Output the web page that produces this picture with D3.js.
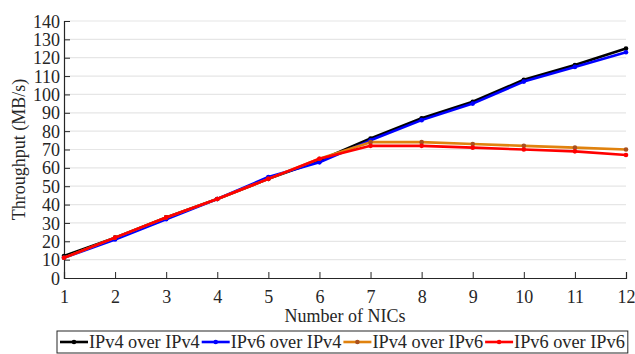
<!DOCTYPE html>
<html><head><meta charset="utf-8">
<script src="https://cdn.jsdelivr.net/npm/d3@7"></script>
<style>body{margin:0;background:#fff}svg{display:block}text{font-family:"Liberation Serif","Times New Roman",serif;fill:#262626}</style>
</head><body><svg id="c" width="635" height="354"></svg>
<script>
const nics = [1,2,3,4,5,6,7,8,9,10,11,12];
const ipv4OverIpv4 = [12,22,33,43,54,64,76,87,96,108,116,125];
const ipv6OverIpv4 = [11,21,32,43,55,63,75,86,95,107,115,123];
const ipv4OverIpv6 = [11,22,33,43,54,65,74,74,73,72,71,70];
const ipv6OverIpv6 = [11,22,33,43,54,65,72,72,71,70,69,67];
const yTicks = [0,10,20,30,40,50,60,70,80,90,100,110,120,130,140];
const seriesNames = ["IPv4 over IPv4","IPv6 over IPv4","IPv4 over IPv6","IPv6 over IPv6"];

const series = [
  {name:seriesNames[0], values:ipv4OverIpv4, color:"#000000", marker:"#000000"},
  {name:seriesNames[1], values:ipv6OverIpv4, color:"#0000ff", marker:"#0000ff"},
  {name:seriesNames[2], values:ipv4OverIpv6, color:"#e0820e", marker:"#a8501e"},
  {name:seriesNames[3], values:ipv6OverIpv6, color:"#ff0000", marker:"#ff0000"}
];

const svg = d3.select("#c");
const L=64, R=626, T=21, B=278;
const x = d3.scaleLinear().domain([1,12]).range([L,R]);
const y = d3.scaleLinear().domain([0,140]).range([B,T]);

// grid
svg.append("g").selectAll("line").data(yTicks.filter(d=>d>0)).join("line")
  .attr("x1",L).attr("x2",R).attr("y1",d=>y(d)).attr("y2",d=>y(d))
  .attr("stroke","#e6e6e6").attr("stroke-width",1.2);

// axes
const yAxis = d3.axisLeft(y).tickValues(yTicks).tickSize(-6).tickPadding(4).tickFormat(d3.format("d"));
const gy = svg.append("g").attr("transform",`translate(${L},0)`).call(yAxis);
const xAxis = d3.axisBottom(x).tickValues(nics).tickSize(-6).tickPadding(12).tickFormat(d3.format("d"));
const gx = svg.append("g").attr("transform",`translate(0,${B})`).call(xAxis);
[gx,gy].forEach(g=>{
  g.select(".domain").attr("stroke","#262626").attr("stroke-width",1.2);
  g.selectAll(".tick line").attr("stroke","#262626").attr("stroke-width",1);
  g.selectAll("text").attr("font-size",18).attr("font-family","Liberation Serif").attr("fill","#262626");
});
gy.selectAll(".tick text").attr("dy","0.34em");

// lines
const line = d3.line().x((d,i)=>x(nics[i])).y(d=>y(d));
series.forEach(s=>{
  svg.append("path").datum(s.values).attr("d",line).attr("fill","none")
    .attr("stroke",s.color).attr("stroke-width",2.6).attr("stroke-linejoin","round");
  svg.append("g").selectAll("circle").data(s.values).join("circle")
    .attr("cx",(d,i)=>x(nics[i])).attr("cy",d=>y(d)).attr("r",2.3).attr("fill",s.marker);
});

// labels
svg.append("text").attr("x",(L+R)/2).attr("y",322).attr("text-anchor","middle").attr("font-size",18).text("Number of NICs");
svg.append("text").attr("transform",`translate(25,${(T+B)/2}) rotate(-90)`).attr("text-anchor","middle").attr("font-size",18).text("Throughput (MB/s)");

// legend
const lg = svg.append("g");
let cx = 60;
const ly = 342;
series.forEach(s=>{
  lg.append("line").attr("x1",cx).attr("x2",cx+28).attr("y1",ly).attr("y2",ly).attr("stroke",s.color).attr("stroke-width",2.6);
  lg.append("circle").attr("cx",cx+14).attr("cy",ly).attr("r",2.3).attr("fill",s.marker);
  const t = lg.append("text").attr("x",cx+29).attr("y",ly).attr("dy","0.33em").attr("font-size",18.3).attr("fill","#000").text(s.name);
  cx += 29 + t.node().getComputedTextLength() + 2;
});
lg.insert("rect",":first-child").attr("x",57).attr("y",331).attr("width",cx-57+1).attr("height",22)
  .attr("fill","#fff").attr("stroke","#262626").attr("stroke-width",1);
</script></body></html>
